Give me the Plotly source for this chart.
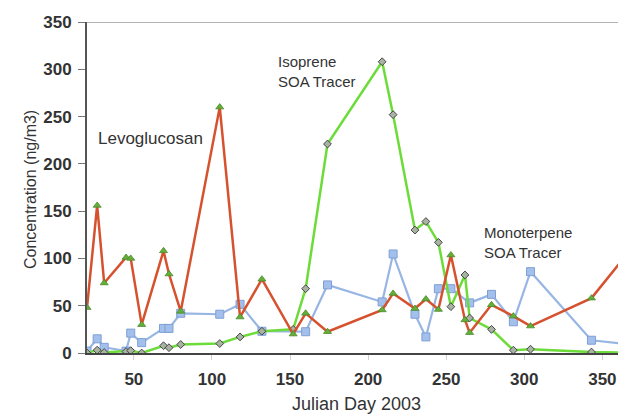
import plotly.graph_objects as go

# Levoglucosan (red line, green triangles)
levo_days = [20, 26.5, 31, 45, 48, 55, 69, 72.5, 80, 105, 118, 132, 152, 160, 174,
             209, 216, 230, 237, 245, 253, 262, 265, 279, 293, 304, 343, 365]
levo_vals = [48, 156, 74, 101, 100, 30, 108, 83.5, 44, 260, 38, 78, 20, 42, 22.5,
             45.5, 63, 47, 57, 46, 103.6, 35, 21.5, 51, 39, 28.5, 58, 103]

# Monoterpene SOA tracer (blue line, squares)
mono_days = [20, 26.5, 31, 45, 48, 55, 69, 72.5, 80, 105, 118, 132, 160, 174,
             209, 216, 230, 237, 245, 253, 265, 279, 293, 304, 343, 365]
mono_vals = [2, 15, 6, 2, 21, 11, 26, 26, 42, 41, 51.5, 23, 22.5, 72,
             54, 104.7, 41, 17, 68, 68, 53, 62, 33, 86, 13.5, 9.5]

# Isoprene SOA tracer (green line, diamonds)
iso_days = [20, 26.5, 31, 45, 48, 55, 69, 72.5, 80, 105, 118, 132, 152, 160, 174,
            209, 216, 230, 237, 245, 253, 262, 265, 279, 293, 304, 343, 365]
iso_vals = [0, 3, 0.5, 1.5, 2.5, 0, 7.7, 5.6, 9, 10, 17, 23, 25, 68, 221,
            308, 252, 130, 139, 117, 49, 82.5, 37, 25, 3, 4, 1, 0.5]

x_ticks = [50, 100, 150, 200, 250, 300, 350]
y_ticks = [0, 50, 100, 150, 200, 250, 300, 350]

TXT = "#333333"
FONT = "Liberation Sans, Arial, sans-serif"

W, H = 618, 415
L, R, T, B = 87, 0, 22, 62
pw, ph = W - L - R, H - T - B


def px(x):
    return (x - L) / pw


def py(y):
    return (H - B - y) / ph


fig = go.Figure()
fig.add_trace(go.Scatter(
    x=mono_days, y=mono_vals, mode="lines+markers", name="Monoterpene SOA Tracer",
    line=dict(color="#98b6e4", width=2.2),
    marker=dict(symbol="square", size=8, color="#a3c0ec", line=dict(color="#7f9fd4", width=1)),
))
fig.add_trace(go.Scatter(
    x=iso_days, y=iso_vals, mode="lines+markers", name="Isoprene SOA Tracer",
    line=dict(color="#6ddc3a", width=2.5),
    marker=dict(symbol="diamond", size=6, color="#a9b3a2", line=dict(color="#444444", width=1)),
))
fig.add_trace(go.Scatter(
    x=levo_days, y=levo_vals, mode="lines+markers", name="Levoglucosan",
    line=dict(color="#d6522e", width=2.5),
    marker=dict(symbol="triangle-up", size=7, color="#62b03a", line=dict(color="#4c8a2a", width=0.8)),
))

fig.update_layout(
    width=W, height=H,
    margin=dict(l=L, r=R, t=T, b=B, pad=0, autoexpand=False),
    paper_bgcolor="white", plot_bgcolor="white",
    showlegend=False,
    font=dict(family=FONT, color=TXT),
    xaxis=dict(
        range=[20, 360], tickvals=x_ticks, ticktext=[str(v) for v in x_ticks],
        showgrid=False, zeroline=False, automargin=False,
        showline=True, linecolor="#444444", linewidth=2,
        ticks="outside", ticklen=5, tickcolor="#d0d0d0", ticklabelstandoff=5,
        tickfont=dict(family=FONT, size=17, color=TXT, weight="bold"),
    ),
    yaxis=dict(
        range=[0, 350], tickvals=y_ticks, ticktext=[str(v) for v in y_ticks],
        showgrid=False, zeroline=False, automargin=False,
        showline=True, linecolor="#555555", linewidth=2,
        ticks="outside", ticklen=7, tickcolor="#777777", ticklabelstandoff=3,
        tickfont=dict(family=FONT, size=17, color=TXT, weight="bold"),
    ),
    shapes=[dict(type="line", xref="paper", yref="y", x0=0, x1=1, y0=350, y1=350,
                 line=dict(color="#999999", width=1.5))],
    annotations=[
        dict(text="Levoglucosan", x=px(96), y=py(138), xref="paper", yref="paper",
             showarrow=False, font=dict(size=17, color=TXT), xanchor="left", yanchor="middle"),
        dict(text="Isoprene<br>SOA Tracer", x=px(276), y=py(71), xref="paper", yref="paper",
             showarrow=False, font=dict(size=15, color=TXT), xanchor="left", yanchor="middle",
             align="left"),
        dict(text="Monoterpene<br>SOA Tracer", x=px(482), y=py(242), xref="paper", yref="paper",
             showarrow=False, font=dict(size=15, color=TXT), xanchor="left", yanchor="middle",
             align="left"),
        dict(text="Concentration (ng/m3)", x=px(30), y=py(190), xref="paper", yref="paper",
             showarrow=False, textangle=-90, font=dict(size=16, color=TXT),
             xanchor="center", yanchor="middle"),
        dict(text="Julian Day 2003", x=px(356), y=py(404), xref="paper", yref="paper",
             showarrow=False, font=dict(size=18, color=TXT), xanchor="center", yanchor="middle"),
    ],
)

fig.write_html("out.html", config={"displayModeBar": False},
               post_script="document.body.style.margin='0';document.body.style.overflow='hidden';")
